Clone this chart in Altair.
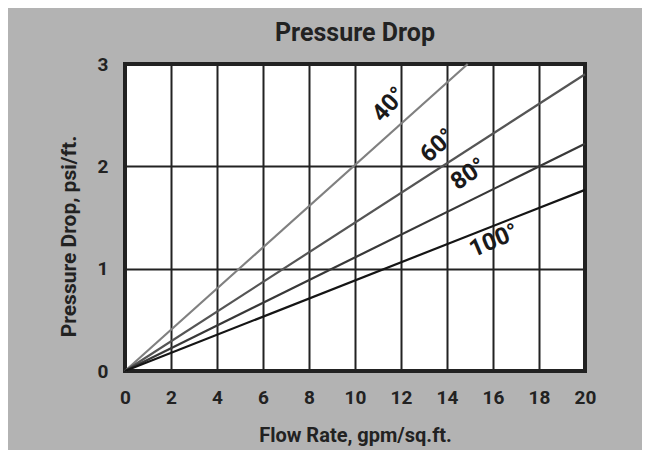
import altair as alt
import pandas as pd

# series: straight lines from the origin
series = ["40°", "60°", "80°", "100°"]
x_end = [14.9, 20, 20, 20]
y_end = [3.0, 2.90, 2.22, 1.77]
colors = ["#808080", "#555555", "#383838", "#151515"]

# label positions (data units) and rotation
lab_x = [11.5, 13.6, 14.95, 16.05]
lab_y = [2.60, 2.20, 1.92, 1.27]
lab_angle = [312, 318, 325, 337]

x_ticks = list(range(0, 21, 2))
y_ticks = [0, 1, 2, 3]

FONT = "Roboto"
INK = "#222222"

rows = []
for s, xe, ye in zip(series, x_end, y_end):
    rows.append({"s": s, "x": 0, "y": 0})
    rows.append({"s": s, "x": xe, "y": ye})
df = pd.DataFrame(rows)

labels = pd.DataFrame({"s": series, "x": lab_x, "y": lab_y, "a": lab_angle})

xs = alt.Scale(domain=[0, 20], nice=False)
ys = alt.Scale(domain=[0, 3], nice=False)

common = dict(grid=True, gridColor=INK, gridWidth=2, gridOpacity=1, domain=False,
              ticks=False, labelFontSize=19, labelFont=FONT, labelFontWeight="bold",
              labelColor=INK, labelFlush=False, titleFont=FONT, titleFontWeight="bold",
              titleColor=INK)

lines = alt.Chart(df).mark_line(strokeWidth=2.2).encode(
    x=alt.X("x:Q", scale=xs, axis=alt.Axis(
        values=x_ticks, title="Flow Rate, gpm/sq.ft.", labelPadding=17,
        titleFontSize=20, titleY=70, titleBaseline="alphabetic", **common)),
    y=alt.Y("y:Q", scale=ys, axis=alt.Axis(
        values=y_ticks, format="d", title="Pressure Drop, psi/ft.", labelPadding=17,
        titleFontSize=21, titleX=-50, titleY=172, titleAlign="center",
        titleBaseline="alphabetic", **common)),
    color=alt.Color("s:N", scale=alt.Scale(domain=series, range=colors), legend=None),
    detail="s:N",
)

text = alt.Chart(labels).mark_text(
    font=FONT, fontSize=24, fontWeight="bold", color="#1a1a1a"
).encode(
    x=alt.X("x:Q", scale=xs),
    y=alt.Y("y:Q", scale=ys),
    text="s:N",
    angle=alt.Angle("a:Q", scale=None),
)

chart = (lines + text).properties(
    width=460, height=307,
    background="#b3b3b3",
    autosize=alt.AutoSizeParams(type="none"),
    padding={"left": 117, "top": 56, "right": 57, "bottom": 79},
    title=alt.TitleParams("Pressure Drop", fontSize=25, font=FONT, fontWeight="bold",
                          color=INK, offset=9),
).configure_view(
    stroke=INK, strokeWidth=4, fill="white"
)

chart.save("out.html", embed_options={"renderer": "svg", "actions": False})
